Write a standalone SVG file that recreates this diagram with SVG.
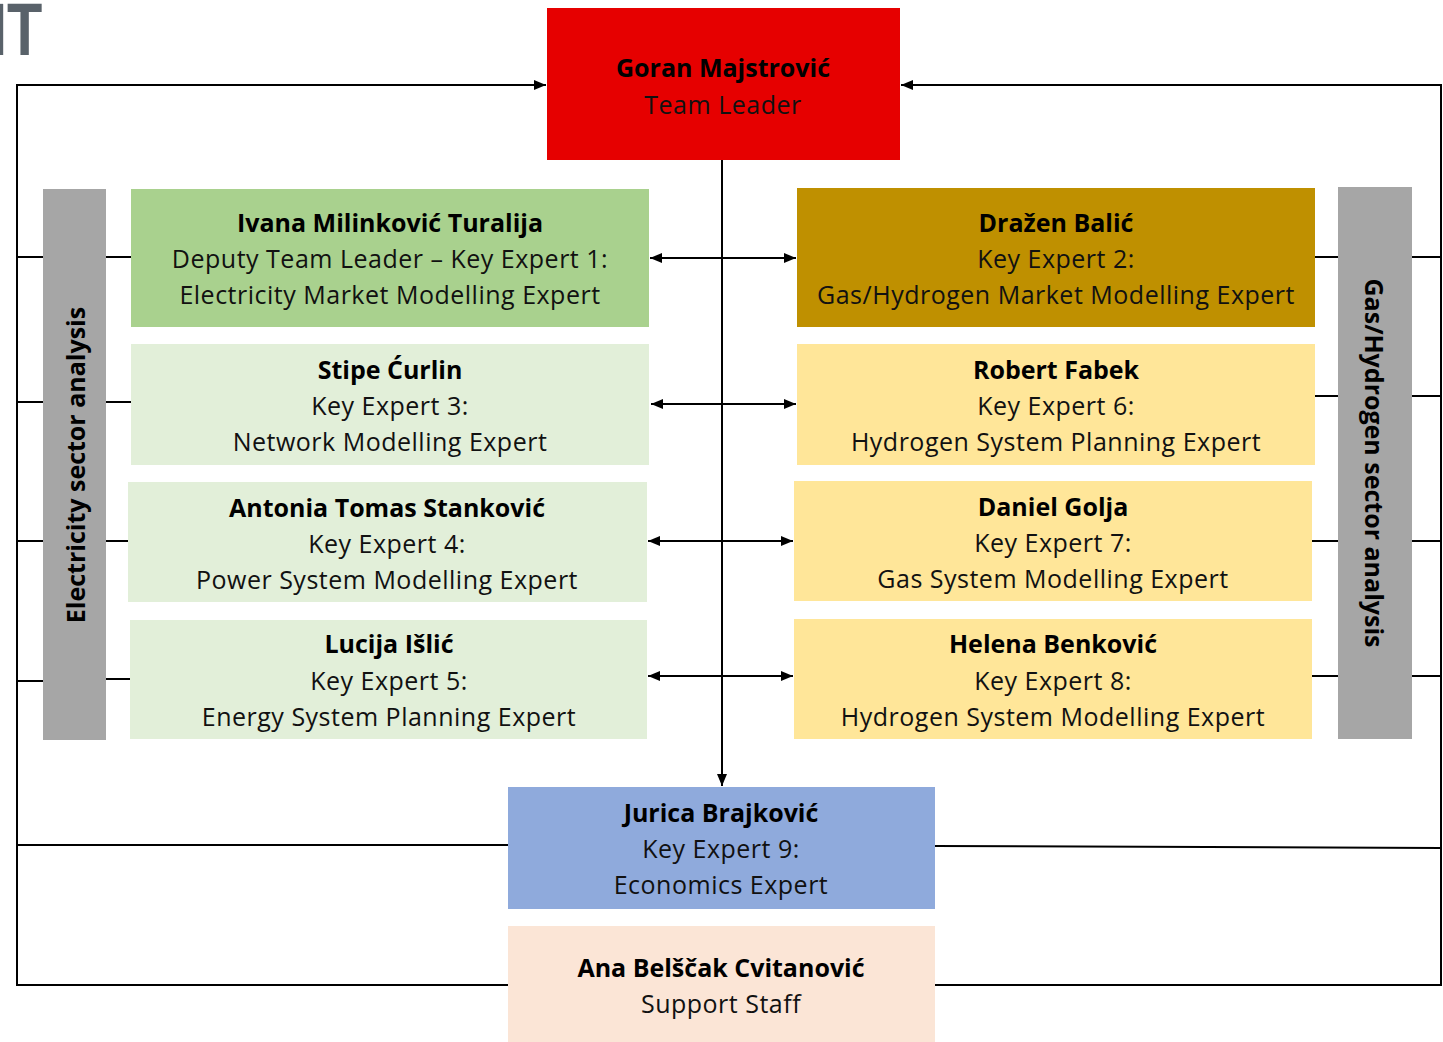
<svg xmlns="http://www.w3.org/2000/svg" width="1443" height="1042" viewBox="0 0 1443 1042">
<defs>
<marker id="ah" viewBox="0 0 12 10" refX="12" refY="5" markerWidth="12" markerHeight="10" orient="auto-start-reverse" markerUnits="userSpaceOnUse">
<path d="M0,0 L12,5 L0,10 z" fill="#000"/>
</marker>
<style>
.t{font-family:"Open Sans","Noto Sans","DejaVu Sans",sans-serif;font-size:25px;letter-spacing:0.5px;fill:#111;text-anchor:middle;dominant-baseline:central}
.b{font-weight:bold;fill:#000;letter-spacing:0}
.ln{stroke:#000;stroke-width:2;fill:none}
.bar{fill:#a6a6a6}
.vt{font-family:"Open Sans","Noto Sans","DejaVu Sans",sans-serif;font-size:25px;font-weight:bold;fill:#000;text-anchor:middle;dominant-baseline:central}
</style>
</defs>
<rect width="1443" height="1042" fill="#fff"/>
<text transform="translate(-9,55) scale(0.78,1)" font-family="Liberation Sans,Arial,sans-serif" font-weight="bold" font-size="74" fill="#59626a">IT</text>

<g id="connectors">
<polyline class="ln" points="545,85 17,85 17,985 508,985"/>
<polyline class="ln" points="902,85 1441,85 1441,985 935,985"/>
<line class="ln" x1="17" y1="845" x2="508" y2="845"/>
<line class="ln" x1="935" y1="846" x2="1441" y2="848"/>
<line class="ln" x1="17" y1="85" x2="546" y2="85" marker-end="url(#ah)"/>
<line class="ln" x1="1441" y1="85" x2="901" y2="85" marker-end="url(#ah)"/>
<line class="ln" x1="722" y1="160" x2="722" y2="786" marker-end="url(#ah)"/>
<line class="ln" x1="650" y1="258" x2="796" y2="258" marker-start="url(#ah)" marker-end="url(#ah)"/>
<line class="ln" x1="651" y1="404" x2="796" y2="404" marker-start="url(#ah)" marker-end="url(#ah)"/>
<line class="ln" x1="648" y1="541" x2="793" y2="541" marker-start="url(#ah)" marker-end="url(#ah)"/>
<line class="ln" x1="648" y1="676" x2="793" y2="676" marker-start="url(#ah)" marker-end="url(#ah)"/>
<line class="ln" x1="17" y1="257" x2="43" y2="257"/>
<line class="ln" x1="106" y1="257" x2="131" y2="257"/>
<line class="ln" x1="17" y1="402" x2="43" y2="402"/>
<line class="ln" x1="106" y1="402" x2="131" y2="402"/>
<line class="ln" x1="17" y1="541" x2="43" y2="541"/>
<line class="ln" x1="106" y1="541" x2="128" y2="541"/>
<line class="ln" x1="17" y1="681" x2="43" y2="681"/>
<line class="ln" x1="106" y1="679" x2="130" y2="679"/>
<line class="ln" x1="1315" y1="257" x2="1338" y2="257"/>
<line class="ln" x1="1412" y1="257" x2="1441" y2="257"/>
<line class="ln" x1="1315" y1="396" x2="1338" y2="396"/>
<line class="ln" x1="1412" y1="396" x2="1441" y2="396"/>
<line class="ln" x1="1312" y1="541" x2="1338" y2="541"/>
<line class="ln" x1="1412" y1="541" x2="1441" y2="541"/>
<line class="ln" x1="1312" y1="676" x2="1338" y2="676"/>
<line class="ln" x1="1412" y1="676" x2="1441" y2="676"/>
</g>

<g id="elec-bar">
<rect class="bar" x="43" y="189" width="63" height="551"/>
<text class="vt" transform="translate(75,465) rotate(-90)">Electricity sector analysis</text>
</g>
<g id="gas-bar">
<rect class="bar" x="1338" y="187" width="74" height="552"/>
<text class="vt" transform="translate(1375,463) rotate(90)">Gas/Hydrogen sector analysis</text>
</g>

<g id="team-leader">
<rect x="547" y="8" width="353" height="152" fill="#e60000"/>
<text class="t b" x="723" y="67">Goran Majstrović</text>
<text class="t" x="723" y="104">Team Leader</text>
</g>

<g id="ke1">
<rect x="131" y="189" width="518" height="138" fill="#a9d18e"/>
<text class="t b" x="390" y="222">Ivana Milinković Turalija</text>
<text class="t" x="390" y="258">Deputy Team Leader – Key Expert 1:</text>
<text class="t" x="390" y="294">Electricity Market Modelling Expert</text>
</g>
<g id="ke3">
<rect x="131" y="344" width="518" height="121" fill="#e2efd9"/>
<text class="t b" x="390" y="369">Stipe Ćurlin</text>
<text class="t" x="390" y="405">Key Expert 3:</text>
<text class="t" x="390" y="441">Network Modelling Expert</text>
</g>
<g id="ke4">
<rect x="128" y="482" width="519" height="120" fill="#e2efd9"/>
<text class="t b" x="387" y="507">Antonia Tomas Stanković</text>
<text class="t" x="387" y="543">Key Expert 4:</text>
<text class="t" x="387" y="579">Power System Modelling Expert</text>
</g>
<g id="ke5">
<rect x="130" y="620" width="517" height="119" fill="#e2efd9"/>
<text class="t b" x="389" y="643">Lucija Išlić</text>
<text class="t" x="389" y="680">Key Expert 5:</text>
<text class="t" x="389" y="716">Energy System Planning Expert</text>
</g>

<g id="ke2">
<rect x="797" y="188" width="518" height="139" fill="#bf9000"/>
<text class="t b" x="1056" y="222">Dražen Balić</text>
<text class="t" x="1056" y="258">Key Expert 2:</text>
<text class="t" x="1056" y="294">Gas/Hydrogen Market Modelling Expert</text>
</g>
<g id="ke6">
<rect x="797" y="344" width="518" height="121" fill="#ffe699"/>
<text class="t b" x="1056" y="369">Robert Fabek</text>
<text class="t" x="1056" y="405">Key Expert 6:</text>
<text class="t" x="1056" y="441">Hydrogen System Planning Expert</text>
</g>
<g id="ke7">
<rect x="794" y="481" width="518" height="120" fill="#ffe699"/>
<text class="t b" x="1053" y="506">Daniel Golja</text>
<text class="t" x="1053" y="542">Key Expert 7:</text>
<text class="t" x="1053" y="578">Gas System Modelling Expert</text>
</g>
<g id="ke8">
<rect x="794" y="619" width="518" height="120" fill="#ffe699"/>
<text class="t b" x="1053" y="643">Helena Benković</text>
<text class="t" x="1053" y="680">Key Expert 8:</text>
<text class="t" x="1053" y="716">Hydrogen System Modelling Expert</text>
</g>

<g id="ke9">
<rect x="508" y="787" width="427" height="122" fill="#8faadc"/>
<text class="t b" x="721" y="812">Jurica Brajković</text>
<text class="t" x="721" y="848">Key Expert 9:</text>
<text class="t" x="721" y="884">Economics Expert</text>
</g>
<g id="support">
<rect x="508" y="926" width="427" height="116" fill="#fbe5d6"/>
<text class="t b" x="721" y="967">Ana Belščak Cvitanović</text>
<text class="t" x="721" y="1003">Support Staff</text>
</g>
</svg>
